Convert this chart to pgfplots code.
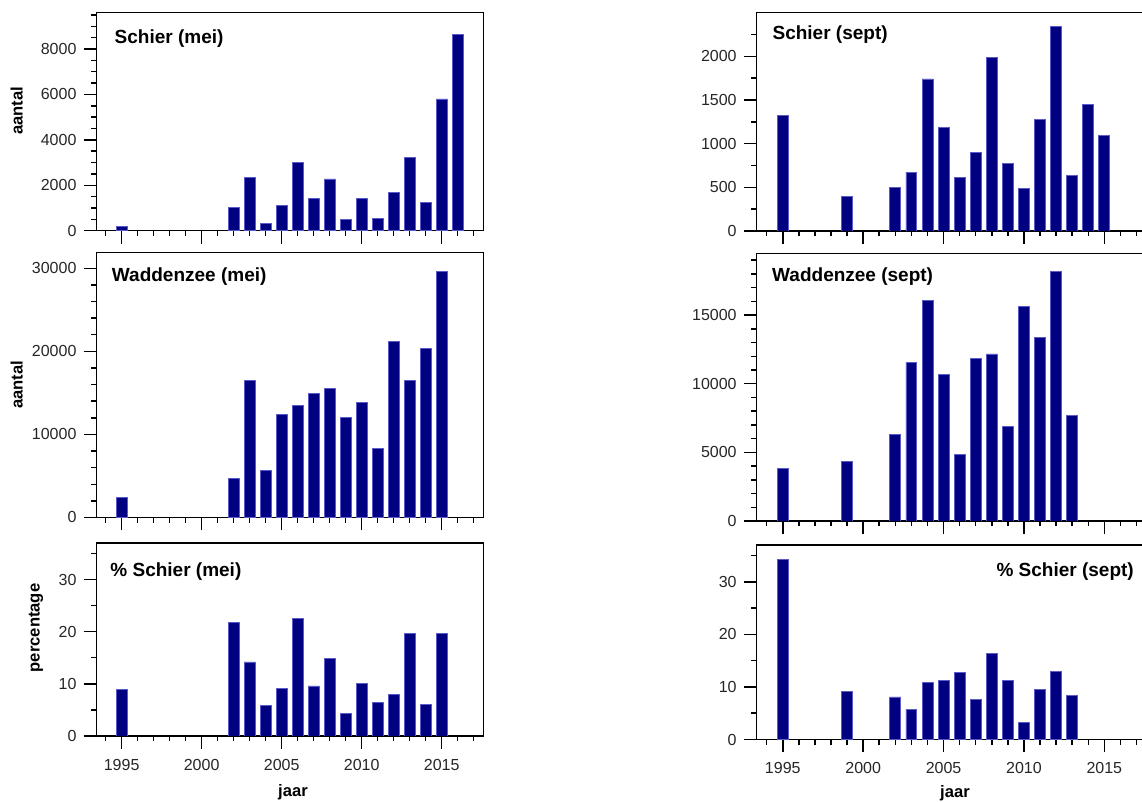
\documentclass[border=0pt]{standalone}
\usepackage{fontspec}
\setmainfont{Liberation Sans}
\usepackage{pgfplots}
\pgfplotsset{compat=1.18}
\definecolor{barfill}{RGB}{0,0,128}
\definecolor{baredge}{RGB}{90,90,200}
\pgfplotsset{
  panel/.style={
    scale only axis,
    ymin=0,
    axis line style={line width=0.7pt},
    tick style={line width=0.75pt, black},
    major tick length=6.5pt, minor tick length=2.75pt,
    tick align=outside, xtick pos=bottom, ytick pos=left,
    xtick={1995,2000,2005,2010,2015},
    minor xtick={1994,1996,1997,1998,1999,2001,2002,2003,2004,2006,2007,2008,2009,2011,2012,2013,2014,2016,2017},
    ticklabel style={font=\fontsize{8}{9}\selectfont, text=black!85},
    xticklabel style={yshift=-1.5pt},
    /pgf/number format/assume math mode=true,
    /pgf/number format/1000 sep={},
    scaled y ticks=false,
    ybar, bar width=0.68,
    label style={font=\fontsize{8.3}{10}\selectfont\bfseries},
  },
  leftcol/.style={panel, width=193.4pt, xmin=1993.43, xmax=2017.6},
  rightcol/.style={panel, width=194pt, xmin=1993.38, xmax=2017.51},
  bars/.style={fill=barfill, draw=baredge, line width=0.4pt},
}
\newcommand{\ptitle}{\fontsize{9.5}{11}\selectfont\bfseries}
\begin{document}
\begin{tikzpicture}
% ---------------- left column ----------------
\begin{axis}[leftcol, at={(48.25pt,285.65pt)}, anchor=south west, height=109pt,
  ymax=9600, ytick={0,2000,...,8000}, minor ytick={500,1000,...,9500},
  xticklabels={}, ylabel={aantal},
  ylabel style={at={(axis description cs:-0.191,0.549)}, anchor=base}]
\addplot[bars] coordinates {(1995,200) (2002,1030) (2003,2330) (2004,320) (2005,1130) (2006,3000) (2007,1400) (2008,2280) (2009,510) (2010,1400) (2011,540) (2012,1680) (2013,3240) (2014,1240) (2015,5800) (2016,8640)};
\node[anchor=base west, inner sep=0pt, font=\ptitle] at (rel axis cs:0.046,0.86) {Schier (mei)};
\end{axis}
\begin{axis}[leftcol, at={(48.25pt,142.25pt)}, anchor=south west, height=132.5pt,
  ymax=31900, ytick={0,10000,20000,30000}, minor ytick={2000,4000,...,30000},
  xticklabels={}, ylabel={aantal},
  ylabel style={at={(axis description cs:-0.191,0.5)}, anchor=base}]
\addplot[bars] coordinates {(1995,2400) (2002,4730) (2003,16450) (2004,5620) (2005,12350) (2006,13480) (2007,14920) (2008,15560) (2009,12030) (2010,13840) (2011,8340) (2012,21220) (2013,16450) (2014,20380) (2015,29600)};
\node[anchor=base west, inner sep=0pt, font=\ptitle] at (rel axis cs:0.039,0.89) {Waddenzee (mei)};
\end{axis}
\begin{axis}[leftcol, at={(48.25pt,33pt)}, anchor=south west, height=96.5pt,
  ymax=37, ytick={0,10,20,30}, minor ytick={5,10,...,35},
  ylabel={percentage}, xlabel={jaar},
  ylabel style={at={(axis description cs:-0.147,0.56)}, anchor=base},
  xlabel style={at={(axis description cs:0.508,-0.311)}, anchor=base}]
\addplot[bars] coordinates {(1995,8.9) (2002,21.8) (2003,14.2) (2004,5.9) (2005,9.2) (2006,22.5) (2007,9.6) (2008,14.9) (2009,4.3) (2010,10.1) (2011,6.4) (2012,8.0) (2013,19.6) (2014,6.1) (2015,19.7)};
\node[anchor=base west, inner sep=0pt, font=\ptitle] at (rel axis cs:0.035,0.825) {\% Schier (mei)};
\end{axis}
% ---------------- right column ----------------
\begin{axis}[rightcol, at={(378.35pt,285.5pt)}, anchor=south west, height=109.15pt,
  ymax=2500, ytick={0,500,...,2000}, minor ytick={250,500,...,2250},
  xticklabels={}]
\addplot[bars] coordinates {(1995,1318) (1999,392) (2002,503) (2003,674) (2004,1741) (2005,1185) (2006,613) (2007,895) (2008,1992) (2009,770) (2010,484) (2011,1280) (2012,2347) (2013,640) (2014,1451) (2015,1097)};
\node[anchor=base west, inner sep=0pt, font=\ptitle] at (rel axis cs:0.040,0.875) {Schier (sept)};
\end{axis}
\begin{axis}[rightcol, at={(378.35pt,140.5pt)}, anchor=south west, height=133.85pt,
  ymax=19500, ytick={0,5000,10000,15000}, minor ytick={1000,2000,...,19000},
  xticklabels={}]
\addplot[bars] coordinates {(1995,3850) (1999,4310) (2002,6280) (2003,11540) (2004,16050) (2005,10670) (2006,4820) (2007,11810) (2008,12170) (2009,6870) (2010,15610) (2011,13390) (2012,18160) (2013,7670)};
\node[anchor=base west, inner sep=0pt, font=\ptitle] at (rel axis cs:0.039,0.894) {Waddenzee (sept)};
\end{axis}
\begin{axis}[rightcol, at={(378.35pt,31.25pt)}, anchor=south west, height=97.25pt,
  ymax=37, ytick={0,10,20,30}, minor ytick={5,10,...,35},
  xlabel={jaar},
  xlabel style={at={(axis description cs:0.511,-0.296)}, anchor=base}]
\addplot[bars] coordinates {(1995,34.2) (1999,9.2) (2002,8.1) (2003,5.8) (2004,10.9) (2005,11.2) (2006,12.8) (2007,7.6) (2008,16.4) (2009,11.2) (2010,3.2) (2011,9.6) (2012,12.9) (2013,8.4)};
\node[anchor=base east, inner sep=0pt, font=\ptitle] at (rel axis cs:0.973,0.837) {\% Schier (sept)};
\end{axis}
\pgfresetboundingbox
\useasboundingbox (0,0) rectangle (571pt,401pt);
\end{tikzpicture}
\end{document}
